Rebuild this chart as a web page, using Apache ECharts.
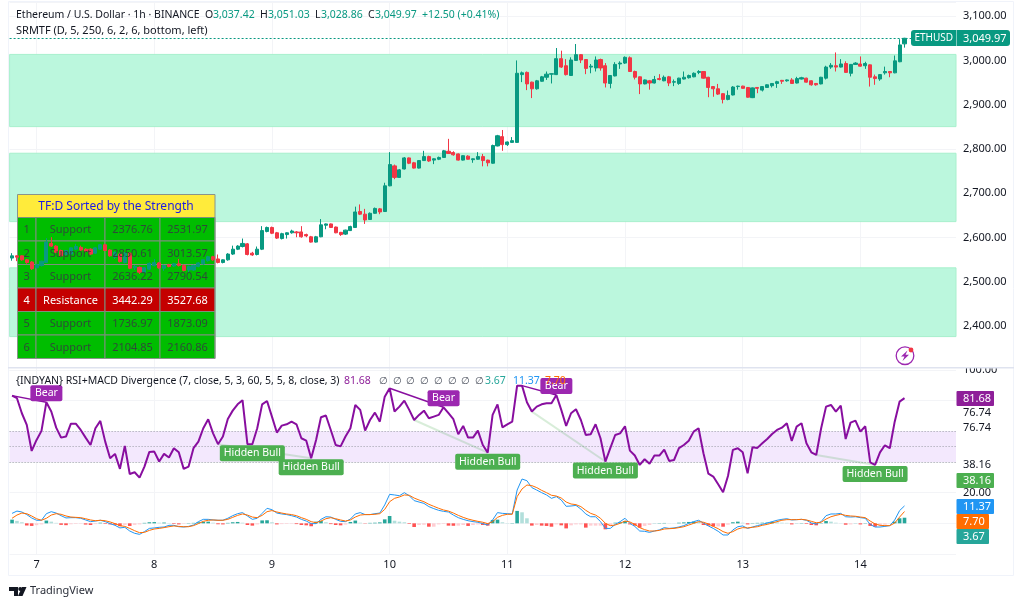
<!DOCTYPE html>
<html>
<head>
<meta charset="utf-8">
<title>ETHUSD</title>
<script src="https://cdn.jsdelivr.net/npm/echarts@6/dist/echarts.min.js"></script>
<style>
html,body{margin:0;padding:0;background:#fff;}
#main{width:1024px;height:607px;}
</style>
</head>
<body>
<div id="main"></div>
<script>
var dayLabels = ['7','8','9','10','11','12','13','14'];
var priceTicks = [2400,2500,2600,2700,2800,2900,3000,3100];

/* hourly candles */
var opens = [
2554,2559,2559,2550,2545,2532,2537,2544,2587,2581,
2571,2562,2563,2574,2578,2574,2574,2565,2574,2584,
2572,2556,2563,2544,2565,2532,2533,2522,2529,2537,
2543,2531,2539,2536,2541,2537,2527,2527,2535,2541,
2548,2557,2552,2544,2550,2563,2574,2580,2586,2565,
2562,2574,2614,2623,2611,2598,2607,2611,2613,2613,
2607,2602,2590,2602,2628,2631,2624,2612,2608,2616,
2623,2659,2653,2641,2655,2665,2659,2717,2762,2736,
2755,2780,2769,2757,2774,2783,2775,2777,2781,2795,
2792,2789,2775,2784,2776,2777,2783,2775,2768,2807,
2828,2810,2815,2815,2968,2973,2951,2936,2953,2962,
2969,2968,3004,2988,2966,3000,3013,3002,2985,2983,
3002,2988,2948,2965,2992,2994,3006,2975,2963,2947,
2954,2949,2959,2954,2963,2951,2948,2958,2961,2963,
2973,2975,2962,2941,2936,2925,2912,2922,2941,2942,
2939,2916,2939,2933,2939,2943,2948,2955,2954,2956,
2949,2958,2960,2954,2948,2947,2960,2985,2988,2985,
2993,2971,2991,2992,2988,2990,2963,2958,2972,2975,
2972,2997,3037.42];
var closes = [
2559,2556,2550,2544,2530,2539,2547,2590,2581,2567,
2559,2571,2577,2580,2572,2569,2563,2577,2584,2571,
2559,2567,2546,2565,2531,2535,2522,2532,2542,2544,
2532,2537,2535,2541,2537,2526,2535,2537,2543,2550,
2557,2550,2544,2550,2563,2574,2581,2587,2562,2561,
2574,2616,2623,2610,2599,2609,2611,2615,2611,2602,
2604,2590,2602,2629,2631,2623,2611,2607,2617,2625,
2658,2653,2640,2655,2666,2658,2717,2765,2736,2753,
2780,2768,2757,2774,2783,2773,2778,2781,2796,2790,
2787,2775,2785,2777,2778,2783,2774,2769,2808,2830,
2810,2816,2819,2971,2972,2947,2936,2954,2963,2969,
2970,3004,2985,2968,3001,3013,3001,2982,2987,3001,
2983,2949,2966,2991,2994,3007,2975,2962,2947,2956,
2949,2957,2957,2962,2949,2952,2960,2962,2966,2971,
2975,2960,2939,2936,2924,2912,2921,2940,2942,2937,
2917,2938,2937,2941,2945,2948,2952,2953,2956,2948,
2959,2961,2951,2945,2945,2962,2985,2989,2985,2992,
2973,2991,2994,2987,2993,2962,2959,2968,2975,2972,
2999,3035,3049.97];
var lows = [
2548,2547,2548,2541,2527,2530,2535,2543,2579,2565,
2557,2560,2561,2572,2570,2567,2561,2563,2573,2570,
2557,2552,2544,2542,2529,2527,2518,2519,2527,2535,
2530,2525,2533,2534,2535,2524,2521,2525,2533,2539,
2546,2548,2542,2542,2548,2561,2572,2578,2560,2559,
2560,2572,2612,2608,2597,2596,2598,2609,2601,2600,
2601,2589,2589,2601,2619,2622,2610,2604,2606,2615,
2622,2651,2631,2640,2654,2653,2658,2716,2732,2735,
2754,2766,2756,2756,2773,2771,2766,2775,2780,2789,
2785,2774,2774,2776,2769,2776,2761,2761,2767,2806,
2796,2807,2814,2814,2951,2933,2915,2934,2952,2956,
2948,2967,2983,2966,2965,2999,2994,2969,2971,2975,
2977,2939,2937,2964,2981,2992,2974,2957,2924,2946,
2934,2948,2955,2953,2942,2942,2945,2957,2959,2962,
2969,2959,2917,2918,2922,2903,2910,2921,2934,2936,
2916,2915,2926,2930,2938,2939,2938,2947,2952,2947,
2948,2957,2950,2943,2943,2946,2957,2981,2975,2984,
2972,2964,2990,2986,2981,2941,2945,2954,2968,2962,
2971,2996,3028.86];
var highs = [
2565,2560,2560,2552,2547,2540,2548,2599,2601,2583,
2573,2572,2578,2586,2582,2576,2576,2578,2586,2586,
2574,2569,2566,2567,2567,2538,2535,2534,2544,2552,
2545,2539,2541,2543,2552,2540,2537,2539,2545,2552,
2559,2559,2562,2551,2565,2582,2583,2598,2588,2568,
2580,2626,2625,2625,2613,2611,2612,2618,2615,2626,
2609,2604,2604,2642,2632,2632,2625,2613,2618,2627,
2670,2675,2665,2657,2668,2667,2724,2793,2765,2755,
2782,2781,2771,2775,2796,2785,2779,2783,2798,2823,
2795,2790,2786,2786,2779,2793,2789,2776,2810,2832,
2843,2817,2827,3000,2975,2975,2952,2956,2965,2975,
2971,3028,3022,3003,3007,3037,3014,3003,2992,3009,
3004,2994,2967,2996,2998,3009,3009,2977,2964,2957,
2956,2965,2969,2966,2965,2957,2961,2975,2968,2973,
2978,2976,2963,2942,2947,2926,2932,2942,2943,2943,
2940,2939,2940,2942,2946,2949,2954,2956,2957,2960,
2963,2963,2961,2955,2949,2963,2988,2994,3018,3003,
2998,2992,2996,3009,2997,2991,2968,2969,2986,2976,
3011,3048,3051.03];

/* strongest support / resistance zones of the table */
var zoneRanks = [1,2,3,4,5,6];
var zoneKinds = ['Support','Support','Support','Resistance','Support','Support'];
var zoneLows = [2376.76,2850.61,2636.22,3442.29,1736.97,2104.85];
var zoneHighs = [2531.97,3013.57,2790.54,3527.68,1873.09,2160.86];

var rsiValues = [
83.3,81.6,71.8,64.2,47.2,54.4,60.3,79.0,72.9,62.4,
55.9,56.6,65.0,65.0,60.9,55.9,51.1,62.0,66.8,53.3,
42.4,45.3,35.5,50.5,32.2,33.3,29.8,37.0,46.6,46.8,
40.3,45.3,42.9,49.0,46.3,35.5,37.0,49.0,53.3,62.0,
67.9,58.7,51.6,56.6,68.1,73.5,77.6,80.3,51.6,51.6,
62.0,77.6,79.8,69.6,59.2,63.7,64.6,66.3,64.6,55.5,
53.9,42.4,54.4,69.2,70.3,60.9,51.1,50.2,56.6,62.0,
77.2,74.0,60.5,67.4,72.2,66.3,82.6,88.1,72.9,76.1,
80.0,74.0,67.4,70.7,73.5,68.5,69.6,70.7,75.7,71.8,
67.9,58.1,63.5,55.9,55.9,60.5,51.1,46.1,70.7,77.6,
62.6,64.6,66.3,89.8,89.8,79.0,72.9,76.1,77.6,78.3,
78.3,83.7,74.0,63.5,71.8,74.4,67.4,57.6,58.1,64.6,
55.5,40.3,49.0,57.6,58.7,63.3,47.4,44.2,38.1,41.8,
38.9,44.2,44.2,48.1,40.7,41.3,49.0,51.1,53.9,59.8,
62.0,45.7,32.4,30.5,25.5,20.3,30.9,47.9,49.0,46.3,
32.6,49.6,49.2,52.2,55.0,58.3,60.9,62.4,65.3,53.7,
63.1,65.3,52.2,46.3,44.6,62.0,76.1,77.2,72.9,76.8,
55.0,65.7,67.0,59.8,63.3,39.8,38.1,46.3,50.9,49.0,
66.3,79.4,81.68];
var macdValues = [
6.5,8.0,7.4,5.7,3.5,2.0,2.0,6.3,7.6,6.7,
5.0,3.5,3.7,3.7,3.3,2.2,1.1,1.5,2.0,1.1,
-0.2,-1.3,-3.0,-2.6,-5.0,-6.5,-7.2,-5.4,-3.3,-3.0,
-2.6,-2.4,-1.3,-1.3,-2.2,-2.4,-2.0,-1.1,1.1,2.6,
2.6,2.2,2.0,2.0,3.3,5.0,6.3,7.0,4.8,2.6,
3.3,6.5,9.8,8.9,6.7,6.1,5.7,5.0,4.1,2.6,
1.5,-0.2,-0.2,2.6,4.3,4.1,2.6,1.3,1.1,2.8,
6.1,7.0,5.7,5.7,6.3,6.7,12.0,18.9,18.5,18.0,
20.0,18.0,14.8,13.9,13.0,10.9,9.6,8.5,7.8,7.4,
5.4,3.7,2.6,1.7,1.1,0.7,-0.2,-1.1,2.2,7.0,
6.5,6.3,6.1,21.7,28.9,27.8,23.3,21.7,20.0,18.5,
16.3,17.4,15.2,11.1,11.3,11.7,9.3,6.1,4.3,4.3,
1.1,-3.3,-3.3,-0.7,1.1,3.3,0,-2.0,-5.0,-5.2,
-5.9,-5.0,-4.3,-2.8,-3.3,-3.0,-2.4,-1.5,0,1.1,
2.0,0.2,-1.7,-3.3,-5.2,-7.6,-7.6,-4.3,-2.2,-1.7,
-3.3,-2.4,-1.5,-0.7,0.2,1.1,2.0,2.6,3.0,2.2,
2.4,2.6,2.0,0.2,-0.4,1.1,5.0,6.1,6.1,6.5,
4.3,4.1,4.3,3.7,3.3,-0.7,-2.4,-2.4,-2.0,-1.5,
2.2,8.3,11.37];
var signalValues = [
3.3,5.4,6.7,6.3,4.8,3.0,2.0,3.3,5.4,6.3,
5.9,4.8,4.1,3.9,3.7,3.0,2.2,1.7,2.0,1.7,
0.9,-0.2,-1.5,-2.0,-3.3,-4.8,-6.1,-5.9,-4.6,-3.7,
-3.3,-2.8,-2.2,-1.7,-2.0,-2.2,-2.2,-1.5,-0.2,1.3,
2.0,2.2,2.0,2.0,2.6,3.9,5.2,6.1,5.4,4.1,
3.7,5.2,7.6,8.3,7.4,6.7,6.1,5.7,5.0,3.7,
2.6,1.1,0.4,1.5,3.0,3.7,3.0,2.2,1.5,2.2,
4.1,5.4,5.7,5.7,5.9,6.3,9.1,14.1,16.3,17.2,
18.5,18.3,16.5,15.2,14.1,12.4,11.1,9.8,8.7,8.0,
6.7,5.2,3.9,2.8,2.0,1.3,0.7,-0.2,1.1,3.9,
5.2,5.9,5.9,17.4,22.4,25.0,24.6,23.3,21.5,20.0,
18.3,17.8,16.5,13.9,12.6,12.2,10.9,8.5,6.5,5.4,
3.3,0,-1.5,-1.1,0,1.5,0.9,-0.7,-2.8,-4.1,
-5.0,-5.0,-4.6,-3.7,-3.5,-3.3,-2.8,-2.2,-1.1,0,
1.1,0.7,-0.4,-2.0,-3.5,-5.4,-6.5,-5.4,-3.7,-2.8,
-3.0,-2.6,-2.2,-1.3,-0.7,0.2,1.1,2.0,2.4,2.4,
2.4,2.6,2.2,1.3,0.4,0.7,2.8,4.3,5.2,5.9,
5.2,4.8,4.6,4.1,3.7,1.5,-0.4,-1.3,-1.5,-1.5,
0.2,4.1,7.70];
var histValues = [
2.4,1.6,0.7,-1.4,-1.7,-1.2,-0.7,1.8,1.1,0.3,
-1.0,-1.2,-0.6,-0.4,-0.3,-0.8,-1.1,-0.5,0.4,-0.4,
-0.7,-1.0,-1.9,-1.0,-1.7,-1.0,-0.7,0.3,0.7,0.8,
0.4,0.5,0.2,-0.4,-0.7,-0.3,0.2,0.3,0.7,1.0,
1.1,0.4,-0.6,-0.7,0.3,0.7,0.9,0.4,-1.1,-1.5,
-0.7,1.9,2.0,0.7,-0.7,-0.5,-0.4,-0.3,-0.5,-1.1,
-1.3,-1.9,1.1,1.5,0.7,-0.5,-1.1,-1.3,-0.8,0.9,
1.8,0.4,-0.2,0.3,0.4,0.6,2.6,4.8,1.7,1.1,
0.7,-0.4,-2.4,-1.1,-0.9,-2.2,-2.2,-0.7,-0.4,-1.5,
-1.6,-1.5,-1.1,-1.7,-1.1,-0.7,-1.1,-1.5,2.2,2.4,
0.7,0.2,0.2,8.1,7.2,3.3,-1.5,-1.1,-1.5,-1.7,
-2.2,-0.7,-1.3,-3.3,-1.3,-0.7,-0.7,-2.8,-1.5,-1.5,
-1.5,-3.9,-1.7,0.4,0.7,1.5,-0.7,-1.5,-2.8,-1.7,
-1.1,0.1,0.2,0.25,0.1,0.05,0.4,0.6,0.9,1.1,
1.0,-1.1,-1.5,-2.0,-2.0,-2.2,-0.9,0.7,1.1,0.4,
-0.7,0.2,0.3,0.4,0.5,0.9,0.7,0.4,0.3,-0.7,
0.1,0.2,-0.4,-1.1,-1.3,0.2,1.5,1.1,0.4,0.1,
-0.9,-0.7,0.1,-0.7,0.2,-1.7,-2.2,-1.3,-0.9,-0.1,
1.1,3.3,3.67];

/* divergence pivots: bar index of the label */
var bearPivots = [7,88,111];
var bullPivots = [49,61,97,121,176];
var bearLinks = [[0,7],[77,88],[104,111]];
var bullLinks = [[42,61],[82,97],[106,121],[164,176]];

var FONT = '"Noto Sans", sans-serif';
var TEAL = '#089981', RED = '#f23645', TXT = '#131722';
var barCount = 193, firstDayBar = 5;

// category names, empty except at midnight
var categories = [];
for (var i = 0; i < barCount; i++) {
    var d = (i - firstDayBar) / 24;
    categories.push(d === Math.floor(d) && dayLabels[d] ? dayLabels[d] : '');
}
function isDay(index, value) { return value !== ''; }

var candles = [];
for (var c = 0; c < opens.length; c++) {
    candles.push([opens[c], closes[c], lows[c], highs[c]]);
}

var histBars = histValues.map(function (v, n) {
    var prev = n > 0 ? histValues[n - 1] : 0;
    var col = v >= 0 ? (v >= prev ? '#26a69a' : '#b2dfdb') : (v < prev ? '#ff5252' : '#ffcdd2');
    return { value: v, itemStyle: { color: col } };
});

// zones that fall inside the visible range
var zoneAreas = [];
zoneLows.forEach(function (low, n) {
    if (low > 2300 && zoneHighs[n] < 3130) {
        zoneAreas.push([{ yAxis: low }, { yAxis: zoneHighs[n] }]);
    }
});

// small-cornered label box, roundRect would turn the wide ones into pills
function tagPath(w, h) {
    return 'path://M2,0H' + (w - 2) + 'Q' + w + ',0 ' + w + ',2V' + (h - 2) + 'Q' + w + ',' + h + ' ' + (w - 2) + ',' + h + 'H2Q0,' + h + ' 0,' + (h - 2) + 'V2Q0,0 2,0Z';
}
function pivotLabel(idx, text, w, off, col) {
    return {
        coord: [idx, rsiValues[idx]], value: text,
        symbol: tagPath(w, 16), symbolKeepAspect: false, symbolSize: [w, 16], symbolOffset: [0, off],
        itemStyle: { color: col },
        label: { show: true, formatter: text, color: '#fff', fontSize: 10.5, fontFamily: FONT, position: 'inside' }
    };
}
function linkLine(pair, col, w) {
    return [
        { coord: [pair[0], rsiValues[pair[0]]], lineStyle: { color: col, width: w, type: 'solid' }, symbol: 'none' },
        { coord: [pair[1], rsiValues[pair[1]]], symbol: 'none' }
    ];
}

/* ---- overlay text and tags ---- */
var gfx = [];
function txt(x, y, s, col, size, extra) {
    var st = { x: x, y: y, text: s, fill: col || TXT, font: (size || 10.5) + 'px ' + FONT, textVerticalAlign: 'middle', textAlign: 'left' };
    for (var k in (extra || {})) { st[k] = extra[k]; }
    gfx.push({ type: 'text', z: 20, style: st, silent: true });
}
function box(x, y, w, h, col, z, r, stroke) {
    gfx.push({ type: 'rect', z: z, shape: { x: x, y: y, width: w, height: h, r: r || 0 }, style: { fill: col, stroke: stroke || null, lineWidth: stroke ? 1 : 0 }, silent: true });
}

// frame and pane separator
gfx.push({ type: 'rect', z: 0, shape: { x: 8.5, y: 1.5, width: 1005, height: 574 }, style: { fill: null, stroke: '#f0f3fa', lineWidth: 1 }, silent: true });
box(957, 358, 56, 9, '#fff', 18);
box(8, 367, 1006, 1.4, '#dfe3ef', 19);

// legend row 1
txt(16, 15.5, 'Ethereum / U.S. Dollar · 1h · BINANCE');
txt(205, 15.5, 'O'); txt(213, 15.5, '3,037.42', TEAL);
txt(260, 15.5, 'H'); txt(268, 15.5, '3,051.03', TEAL);
txt(315, 15.5, 'L'); txt(321, 15.5, '3,028.86', TEAL);
txt(368, 15.5, 'C'); txt(375, 15.5, '3,049.97', TEAL);
txt(422, 15.5, '+12.50 (+0.41%)', TEAL);
txt(16, 30.5, 'SRMTF (D, 5, 250, 6, 2, 6, bottom, left)', TXT, 11);

// last price tags
box(911, 30, 45.5, 16, TEAL, 15, [3, 0, 0, 3]);
box(957, 30, 53, 16, TEAL, 15, [0, 3, 3, 0]);
txt(914.5, 38.5, 'ETHUSD', '#fff', 10);
txt(963, 38.5, '3,049.97', '#fff', 11);

// the support/resistance table, sits under the candles with text on top
var tblX = [17.5, 36, 105, 160, 215], tblY = 217.5, rowH = 23.5;
box(17.5, 194.5, 197.5, 23, '#ffeb3b', 2);
txt(116, 207, 'TF:D Sorted by the Strength', '#1a1ae6', 12, { textAlign: 'center' });
zoneRanks.forEach(function (rank, n) {
    var y = tblY + n * rowH, isRes = zoneKinds[n] === 'Resistance';
    var fill = isRes ? '#c40000' : '#00bd00', col = isRes ? '#fff' : '#2e4a38';
    var cells = [String(rank), zoneKinds[n], zoneLows[n].toFixed(2), zoneHighs[n].toFixed(2)];
    cells.forEach(function (cell, m) {
        box(tblX[m], y, tblX[m + 1] - tblX[m], rowH, fill, 2, 0, '#7d8f7d');
        txt((tblX[m] + tblX[m + 1]) / 2, y + rowH / 2 + 1, cell, col, 11, { textAlign: 'center' });
    });
});
gfx.push({ type: 'rect', z: 2, shape: { x: 17.5, y: 194.5, width: 197.5, height: 164 }, style: { fill: null, stroke: '#8a948a', lineWidth: 1 }, silent: true });

// little bolt icon
gfx.push({ type: 'circle', z: 15, shape: { cx: 905, cy: 355.7, r: 8.8 }, style: { fill: '#fff', stroke: '#9c27b0', lineWidth: 1.3 }, silent: true });
gfx.push({ type: 'polygon', z: 16, shape: { points: [[907.5, 350.5], [901, 356.5], [904.5, 356.5], [902.5, 361], [909, 354.8], [905.5, 354.8]] }, style: { fill: '#9c27b0' }, silent: true });
gfx.push({ type: 'circle', z: 17, shape: { cx: 911, cy: 350, r: 2.4 }, style: { fill: RED }, silent: true });

// legend of lower pane
txt(16, 381.5, '{INDYAN} RSI+MACD Divergence (7, close, 5, 3, 60, 5, 5, 8, close, 3)');
txt(344, 381.5, '81.68', '#8e1f99');
for (var e = 0; e < 8; e++) { txt(379 + e * 13.7, 381.5, '∅', '#4a4f5c', 9.5); }
txt(485, 381.5, '3.67', '#26a69a');
txt(513, 381.5, '11.37', '#2196f3');
txt(545, 381.5, '7.70', '#ff6d00');

// stacked labels and tags of lower pane
txt(963, 413.3, '76.74', TXT, 11);
txt(963, 428.3, '76.74', TXT, 11);
txt(963, 465.3, '38.16', TXT, 11);
box(956.5, 391, 37.5, 15, '#8e1f99', 15, 1); txt(963, 398.8, '81.68', '#fff', 11);
box(956.5, 473, 37.5, 15, '#4caf50', 15, 1); txt(963, 480.8, '38.16', '#fff', 11);
box(956.5, 499, 37.5, 15, '#2196f3', 15, 1); txt(963, 506.8, '11.37', '#fff', 11);
box(956.5, 514, 32.5, 15, '#ff6d00', 15, 1); txt(963, 521.8, '7.70', '#fff', 11);
box(956.5, 529, 32.5, 15, '#26a69a', 15, 1); txt(963, 536.8, '3.67', '#fff', 11);

// TradingView mark
gfx.push({ type: 'polygon', z: 15, shape: { points: [[9, 587], [18, 587], [18, 596], [14, 596], [14, 591], [9, 591]] }, style: { fill: '#131722' }, silent: true });
gfx.push({ type: 'circle', z: 15, shape: { cx: 20.2, cy: 589, r: 2 }, style: { fill: '#131722' }, silent: true });
gfx.push({ type: 'polygon', z: 15, shape: { points: [[22, 587], [26.5, 587], [22.5, 596], [18, 596]] }, style: { fill: '#131722' }, silent: true });
txt(30, 591, 'TradingView', '#2a2e39', 11);

var chart = echarts.init(document.getElementById('main'), null, { renderer: 'canvas' });
var gridLine = { show: true, lineStyle: { color: '#f3f4f7', width: 1 } };
var dayLine = { show: true, alignWithLabel: true, interval: isDay, lineStyle: { color: '#f3f4f7', width: 1 } };
var bandDots = { color: '#9a9ca6', type: [1, 2], width: 1 };

chart.setOption({
    animation: false,
    backgroundColor: '#fff',
    graphic: { elements: gfx },
    grid: [
        { left: 9.6, width: 946.4, top: 2.6, height: 368 },
        { left: 9.6, width: 946.4, top: 370, height: 184 }
    ],
    xAxis: [
        { type: 'category', gridIndex: 0, data: categories, axisLine: { show: false }, axisTick: { show: false }, axisLabel: { show: false }, splitLine: dayLine },
        { type: 'category', gridIndex: 1, data: categories, axisLine: { show: false }, axisTick: { show: false }, splitLine: dayLine,
          axisLabel: { show: true, interval: isDay, margin: 5, color: TXT, fontSize: 11, fontFamily: FONT } }
    ],
    yAxis: [
        { type: 'value', gridIndex: 0, position: 'right', min: 2300, max: 3130.5, interval: 100, splitLine: gridLine,
          axisLine: { show: false }, axisTick: { show: false },
          axisLabel: { margin: 7, color: TXT, fontSize: 11, fontFamily: FONT, showMinLabel: true, showMaxLabel: true, formatter: function (v) {
              return priceTicks.indexOf(v) < 0 ? '' : echarts.format.addCommas(v) + '.00';
          } } },
        { type: 'value', gridIndex: 1, position: 'right', min: -20, max: 100, interval: 20, splitLine: gridLine,
          axisLine: { show: false }, axisTick: { show: false },
          axisLabel: { margin: 7, color: TXT, fontSize: 11, fontFamily: FONT, formatter: function (v) {
              return v === 100 || v === 20 ? v.toFixed(2) : '';
          } } }
    ],
    series: [
        { type: 'line', name: 'zones', xAxisIndex: 0, yAxisIndex: 0, data: [], z: 1, silent: true,
          markArea: { silent: true, itemStyle: { color: '#bbf7dd', borderColor: '#a8f0cd', borderWidth: 1 }, data: zoneAreas } },
        { type: 'candlestick', xAxisIndex: 0, yAxisIndex: 0, data: candles, z: 3, barWidth: 3.6,
          itemStyle: { color: TEAL, color0: RED, borderColor: TEAL, borderColor0: RED, borderWidth: 1 },
          markLine: { silent: true, symbol: 'none', label: { show: false },
              lineStyle: { color: TEAL, type: [2, 2], width: 1 }, data: [{ yAxis: closes[closes.length - 1] }] } },
        { type: 'bar', name: 'hist', xAxisIndex: 1, yAxisIndex: 1, data: histBars, barWidth: 3.6, z: 2 },
        { type: 'line', name: 'macd', xAxisIndex: 1, yAxisIndex: 1, data: macdValues, symbol: 'none', z: 3,
          lineStyle: { color: '#2196f3', width: 1 } },
        { type: 'line', name: 'signal', xAxisIndex: 1, yAxisIndex: 1, data: signalValues, symbol: 'none', z: 4,
          lineStyle: { color: '#ff6d00', width: 1 } },
        { type: 'line', name: 'rsi', xAxisIndex: 1, yAxisIndex: 1, data: rsiValues, symbol: 'none', z: 6,
          lineStyle: { color: '#880e9f', width: 2 },
          markArea: { silent: true, z: 1, itemStyle: { color: '#f3e8fd' }, data: [[{ yAxis: 40 }, { yAxis: 60 }]] },
          markLine: { silent: true, symbol: 'none', label: { show: false },
              data: [
                  { yAxis: 60, lineStyle: bandDots },
                  { yAxis: 50, lineStyle: bandDots },
                  { yAxis: 40, lineStyle: bandDots }
              ].concat(bearLinks.map(function (p) { return linkLine(p, '#880e9f', 1.4); }))
               .concat(bullLinks.map(function (p) { return linkLine(p, 'rgba(76,175,80,0.22)', 2); })) },
          markPoint: { silent: true, z: 12,
              data: bearPivots.map(function (p) { return pivotLabel(p, 'Bear', 32, -9, '#9c27b0'); })
                  .concat(bullPivots.map(function (p) { return pivotLabel(p, 'Hidden Bull', 65, 9, '#4caf50'); })) } }
    ]
});
</script>
</body>
</html>
